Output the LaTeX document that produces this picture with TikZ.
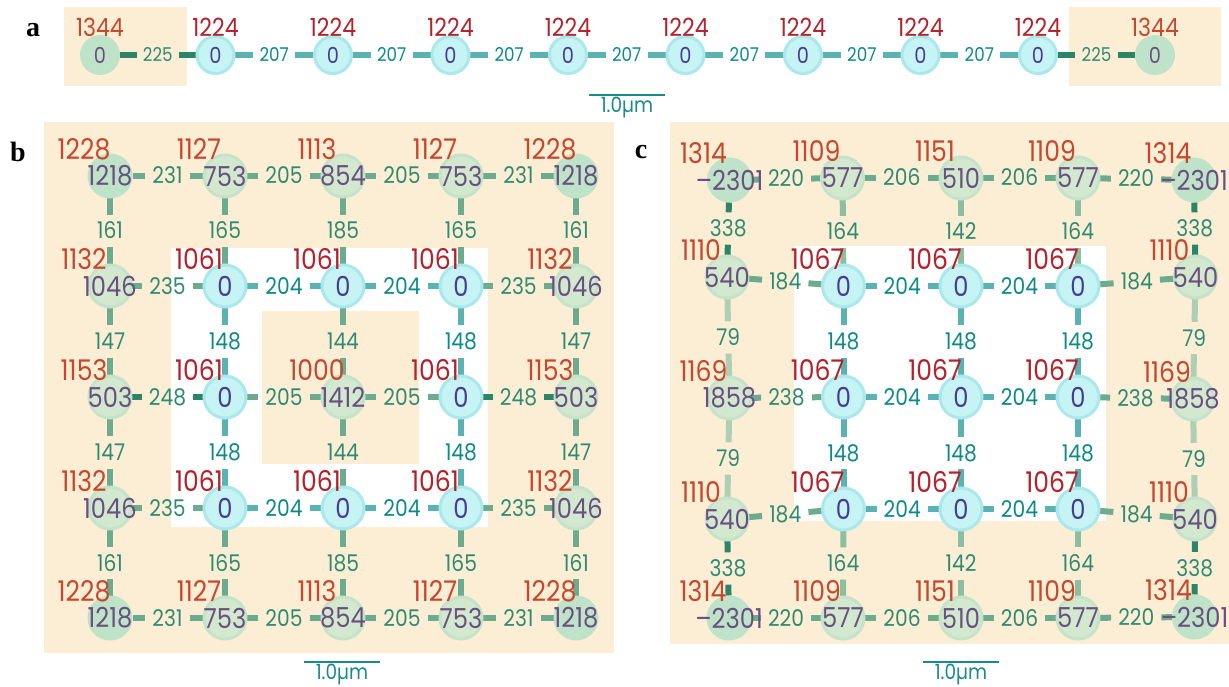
\documentclass[tikz,border=0pt]{standalone}
\usepackage{fontspec}
\usetikzlibrary{calc}
\newfontfamily\pop{Poppins}[FakeStretch=0.88]
\newfontfamily\tms{Liberation Serif}
\definecolor{beige}{HTML}{FCEDD5}
\definecolor{gSolid}{HTML}{BEE3C9}
\definecolor{gPale}{HTML}{D3E9CF}
\definecolor{gRing}{HTML}{C5E3C8}
\definecolor{cInner}{HTML}{C6F3F3}
\definecolor{cRing}{HTML}{ABE8EC}
\definecolor{ntG}{HTML}{6B4F80}
\definecolor{ntC}{HTML}{4A3A96}
\definecolor{redO}{HTML}{C8462A}
\definecolor{redC}{HTML}{B5202A}
\definecolor{elG}{HTML}{2E8B72}
\definecolor{elC}{HTML}{0A8A8A}
\definecolor{barG}{HTML}{6CAB8D}
\definecolor{barGL}{HTML}{8DBE9F}
\definecolor{barL}{HTML}{AECFB3}
\definecolor{barC}{HTML}{5AB2B2}
\definecolor{barD}{HTML}{2B8566}
\definecolor{scl}{HTML}{1A8A8A}
\pgfdeclarelayer{bg}
\pgfdeclarelayer{edges}
\pgfsetlayers{bg,edges,main}
\tikzset{
  base/.style={circle,inner sep=0pt,outer sep=0pt},
  nfont/.style={font=\pop\fontsize{27.5}{27.5}\selectfont},
  gs/.style={base,fill=gSolid,minimum size=45pt,text=ntG,nfont},
  gr/.style={base,fill=gPale,draw=gRing,line width=3pt,minimum size=42pt,text=ntG,nfont},
  cy/.style={base,fill=cInner,draw=cRing,line width=3pt,minimum size=42pt,text=ntC,nfont},
  rlab/.style={inner sep=0pt,text height=19pt,text depth=0pt,font=\pop\fontsize{28.5}{28.5}\selectfont},
  elab/.style={inner xsep=7pt,inner ysep=8pt,text height=16pt,text depth=0pt,font=\pop\fontsize{23}{23}\selectfont},
  bar/.style={line width=6pt},
  sbar/.style={draw=scl,line width=1.2pt},
  stext/.style={text=scl,inner sep=0pt,anchor=north,text height=14pt,text depth=0pt,font=\pop\fontsize{21}{21}\selectfont},
  plab/.style={inner sep=0pt,font=\tms\bfseries\fontsize{28}{28}\selectfont},
  box/.style={fill=beige,draw=none},
  wbox/.style={fill=white,draw=none}
}
\def\lx{-26}\def\ly{-26}
\newcommand\nd[7]{%
  \node[#2] (#1) at (#3,#4) {\makebox[0pt]{#5}};
  \node[rlab,text=#7] (#1l) at ($(#1)+(\lx,\ly)$) {#6};}
\newcommand\ed[5]{%
  \node[elab,text=#5] (#1#2) at ($(#1)!0.5!(#2)$) {#3};
  \begin{pgfonlayer}{edges}\draw[bar,draw=#4] (#1) -- (#1#2) (#1#2) -- (#2);\end{pgfonlayer}}
\begin{document}
\begin{tikzpicture}[x=1pt,y=-1pt]
\useasboundingbox (0,0) rectangle (1229,687);
% ---------- backgrounds
\begin{pgfonlayer}{bg}
\fill[white] (0,0) rectangle (1229,687);
\fill[box] (64,7) rectangle (187,86);
\fill[box] (1069,7) rectangle (1221,86);
\fill[box] (44,122) rectangle (614,653);
\fill[wbox] (171,248) rectangle (488,527);
\fill[box] (262,311) rectangle (419,464);
\fill[box] (670,122) rectangle (1229,644);
\fill[wbox] (794,246) rectangle (1106,521);
\end{pgfonlayer}
% ---------- panel labels
\node[plab] (pa) at (33,30) {a};
\node[plab] (pb) at (18,152) {b};
\node[plab] (pc) at (641,152) {c};
% ---------- panel a
\begin{scope}[
  nfont/.style={font=\pop\fontsize{22}{22}\selectfont},
  gs/.append style={minimum size=40pt},
  cy/.append style={minimum size=37pt},
  rlab/.append style={font=\pop\fontsize{25}{25}\selectfont,text height=16.5pt},
  elab/.append style={font=\pop\fontsize{19}{19}\selectfont,text height=13pt,inner xsep=6pt}]
\def\lx{0}\def\ly{-26.5}
\nd{a0}{gs}{100}{55}{0}{1344}{redO}
\nd{a1}{cy}{215.5}{55}{0}{1224}{redC}
\nd{a2}{cy}{333}{55}{0}{1224}{redC}
\nd{a3}{cy}{450.5}{55}{0}{1224}{redC}
\nd{a4}{cy}{568}{55}{0}{1224}{redC}
\nd{a5}{cy}{685.5}{55}{0}{1224}{redC}
\nd{a6}{cy}{803}{55}{0}{1224}{redC}
\nd{a7}{cy}{920.5}{55}{0}{1224}{redC}
\nd{a8}{cy}{1038}{55}{0}{1224}{redC}
\nd{a9}{gs}{1155}{55}{0}{1344}{redO}
\ed{a0}{a1}{225}{barD}{elG}
\ed{a1}{a2}{207}{barC}{elC}
\ed{a2}{a3}{207}{barC}{elC}
\ed{a3}{a4}{207}{barC}{elC}
\ed{a4}{a5}{207}{barC}{elC}
\ed{a5}{a6}{207}{barC}{elC}
\ed{a6}{a7}{207}{barC}{elC}
\ed{a7}{a8}{207}{barC}{elC}
\ed{a8}{a9}{225}{barD}{elG}
\end{scope}
\coordinate (sa1) at (589,95);
\coordinate (sa2) at (665,95);
\draw[sbar] (sa1) -- (sa2);
\node[stext] (sat) at (627,98) {1.0µm};
% ---------- panel b
\nd{b11}{gs}{110}{176}{1218}{1228}{redO}
\nd{b12}{gr}{225}{176}{753}{1127}{redO}
\nd{b13}{gr}{343}{176}{854}{1113}{redO}
\nd{b14}{gr}{461}{176}{753}{1127}{redO}
\nd{b15}{gs}{576}{176}{1218}{1228}{redO}
\nd{b21}{gr}{110}{286}{1046}{1132}{redO}
\nd{b22}{cy}{225}{286}{0}{1061}{redC}
\nd{b23}{cy}{343}{286}{0}{1061}{redC}
\nd{b24}{cy}{461}{286}{0}{1061}{redC}
\nd{b25}{gr}{576}{286}{1046}{1132}{redO}
\nd{b31}{gr}{110}{397}{503}{1153}{redO}
\nd{b32}{cy}{225}{397}{0}{1061}{redC}
\nd{b33}{gr}{343}{397}{1412}{1000}{redO}
\nd{b34}{cy}{461}{397}{0}{1061}{redC}
\nd{b35}{gr}{576}{397}{503}{1153}{redO}
\nd{b41}{gr}{110}{508}{1046}{1132}{redO}
\nd{b42}{cy}{225}{508}{0}{1061}{redC}
\nd{b43}{cy}{343}{508}{0}{1061}{redC}
\nd{b44}{cy}{461}{508}{0}{1061}{redC}
\nd{b45}{gr}{576}{508}{1046}{1132}{redO}
\nd{b51}{gs}{110}{618}{1218}{1228}{redO}
\nd{b52}{gr}{225}{618}{753}{1127}{redO}
\nd{b53}{gr}{343}{618}{854}{1113}{redO}
\nd{b54}{gr}{461}{618}{753}{1127}{redO}
\nd{b55}{gs}{576}{618}{1218}{1228}{redO}
% horizontal
\ed{b11}{b12}{231}{barG}{elG}\ed{b12}{b13}{205}{barG}{elG}\ed{b13}{b14}{205}{barG}{elG}\ed{b14}{b15}{231}{barG}{elG}
\ed{b21}{b22}{235}{barG}{elG}\ed{b22}{b23}{204}{barC}{elC}\ed{b23}{b24}{204}{barC}{elC}\ed{b24}{b25}{235}{barG}{elG}
\ed{b31}{b32}{248}{barD}{elG}\ed{b32}{b33}{205}{barG}{elG}\ed{b33}{b34}{205}{barG}{elG}\ed{b34}{b35}{248}{barD}{elG}
\ed{b41}{b42}{235}{barG}{elG}\ed{b42}{b43}{204}{barC}{elC}\ed{b43}{b44}{204}{barC}{elC}\ed{b44}{b45}{235}{barG}{elG}
\ed{b51}{b52}{231}{barG}{elG}\ed{b52}{b53}{205}{barG}{elG}\ed{b53}{b54}{205}{barG}{elG}\ed{b54}{b55}{231}{barG}{elG}
% vertical
\ed{b11}{b21}{161}{barG}{elG}\ed{b21}{b31}{147}{barG}{elG}\ed{b31}{b41}{147}{barG}{elG}\ed{b41}{b51}{161}{barG}{elG}
\ed{b12}{b22}{165}{barG}{elG}\ed{b22}{b32}{148}{barC}{elC}\ed{b32}{b42}{148}{barC}{elC}\ed{b42}{b52}{165}{barG}{elG}
\ed{b13}{b23}{185}{barG}{elG}\ed{b23}{b33}{144}{barG}{elG}\ed{b33}{b43}{144}{barG}{elG}\ed{b43}{b53}{185}{barG}{elG}
\ed{b14}{b24}{165}{barG}{elG}\ed{b24}{b34}{148}{barC}{elC}\ed{b34}{b44}{148}{barC}{elC}\ed{b44}{b54}{165}{barG}{elG}
\ed{b15}{b25}{161}{barG}{elG}\ed{b25}{b35}{147}{barG}{elG}\ed{b35}{b45}{147}{barG}{elG}\ed{b45}{b55}{161}{barG}{elG}
\coordinate (sb1) at (304,662);
\coordinate (sb2) at (380,662);
\draw[sbar] (sb1) -- (sb2);
\node[stext] (sbt) at (342,665.5) {1.0µm};
% ---------- panel c
\nd{c11}{gs}{729.5}{180}{–2301}{1314}{redO}
\nd{c12}{gr}{842.5}{178}{577}{1109}{redO}
\nd{c13}{gr}{961}{178}{510}{1151}{redO}
\nd{c14}{gr}{1078}{178}{577}{1109}{redO}
\nd{c15}{gs}{1194}{180}{–2301}{1314}{redO}
\nd{c21}{gr}{727}{277}{540}{1110}{redO}
\nd{c22}{cy}{843.5}{286}{0}{1067}{redC}
\nd{c23}{cy}{961}{286}{0}{1067}{redC}
\nd{c24}{cy}{1078}{286}{0}{1067}{redC}
\nd{c25}{gr}{1195.5}{277}{540}{1110}{redO}
\nd{c31}{gr}{729.5}{398}{1858}{1169}{redO}
\nd{c32}{cy}{843.5}{397}{0}{1067}{redC}
\nd{c33}{cy}{961}{397}{0}{1067}{redC}
\nd{c34}{cy}{1078}{397}{0}{1067}{redC}
\nd{c35}{gr}{1193}{399}{1858}{1169}{redO}
\nd{c41}{gr}{727}{519}{540}{1110}{redO}
\nd{c42}{cy}{843.5}{509}{0}{1067}{redC}
\nd{c43}{cy}{961}{509}{0}{1067}{redC}
\nd{c44}{cy}{1078}{509}{0}{1067}{redC}
\nd{c45}{gr}{1195}{519}{540}{1110}{redO}
\nd{c51}{gs}{729}{618}{–2301}{1314}{redO}
\nd{c52}{gr}{843}{618}{577}{1109}{redO}
\nd{c53}{gr}{961}{618}{510}{1151}{redO}
\nd{c54}{gr}{1078}{618}{577}{1109}{redO}
\nd{c55}{gs}{1194.5}{617}{–2301}{1314}{redO}
% horizontal
\ed{c11}{c12}{220}{barG}{elG}\ed{c12}{c13}{206}{barG}{elG}\ed{c13}{c14}{206}{barG}{elG}\ed{c14}{c15}{220}{barG}{elG}
\ed{c21}{c22}{184}{barG}{elG}\ed{c22}{c23}{204}{barC}{elC}\ed{c23}{c24}{204}{barC}{elC}\ed{c24}{c25}{184}{barG}{elG}
\ed{c31}{c32}{238}{barG}{elG}\ed{c32}{c33}{204}{barC}{elC}\ed{c33}{c34}{204}{barC}{elC}\ed{c34}{c35}{238}{barG}{elG}
\ed{c41}{c42}{184}{barG}{elG}\ed{c42}{c43}{204}{barC}{elC}\ed{c43}{c44}{204}{barC}{elC}\ed{c44}{c45}{184}{barG}{elG}
\ed{c51}{c52}{220}{barG}{elG}\ed{c52}{c53}{206}{barG}{elG}\ed{c53}{c54}{206}{barG}{elG}\ed{c54}{c55}{220}{barG}{elG}
% vertical
\ed{c11}{c21}{338}{barD}{elG}\ed{c21}{c31}{79}{barL}{elG}\ed{c31}{c41}{79}{barL}{elG}\ed{c41}{c51}{338}{barD}{elG}
\ed{c12}{c22}{164}{barGL}{elG}\ed{c22}{c32}{148}{barC}{elC}\ed{c32}{c42}{148}{barC}{elC}\ed{c42}{c52}{164}{barGL}{elG}
\ed{c13}{c23}{142}{barGL}{elG}\ed{c23}{c33}{148}{barC}{elC}\ed{c33}{c43}{148}{barC}{elC}\ed{c43}{c53}{142}{barGL}{elG}
\ed{c14}{c24}{164}{barGL}{elG}\ed{c24}{c34}{148}{barC}{elC}\ed{c34}{c44}{148}{barC}{elC}\ed{c44}{c54}{164}{barGL}{elG}
\ed{c15}{c25}{338}{barD}{elG}\ed{c25}{c35}{79}{barL}{elG}\ed{c35}{c45}{79}{barL}{elG}\ed{c45}{c55}{338}{barD}{elG}
\coordinate (sc1) at (923,662);
\coordinate (sc2) at (999,662);
\draw[sbar] (sc1) -- (sc2);
\node[stext] (sct) at (961,665.5) {1.0µm};
\end{tikzpicture}
\end{document}
